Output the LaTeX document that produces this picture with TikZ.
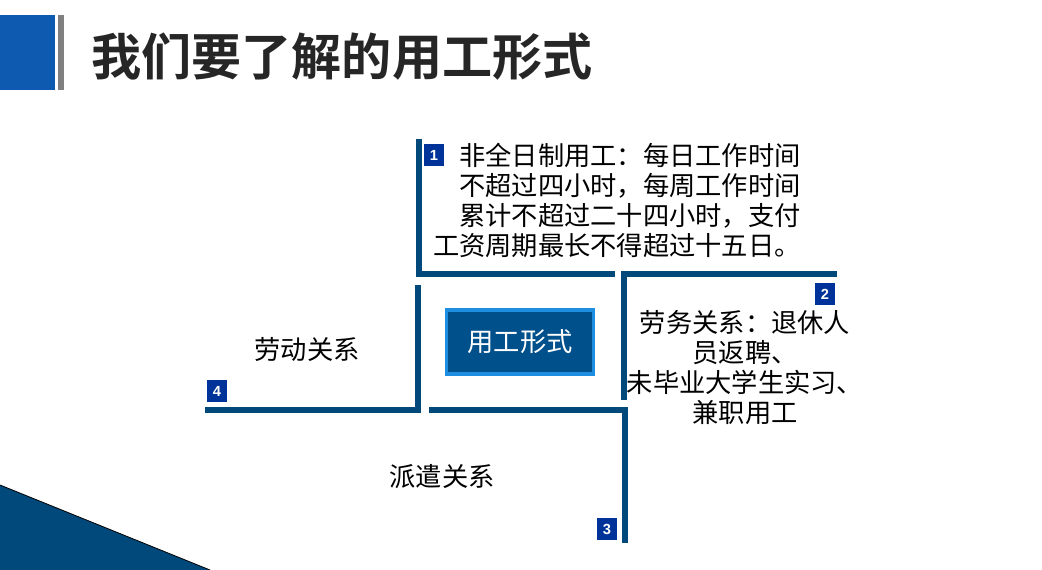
\documentclass[tikz,border=0pt]{standalone}
\usepackage{fontspec}
\setmainfont{Liberation Sans}
\newfontfamily\cjk[BoldFont={Noto Sans CJK SC Bold}]{Noto Sans CJK SC}
\definecolor{lineblue}{HTML}{00497A}
\definecolor{numblue}{HTML}{003399}
\definecolor{topblue}{HTML}{0E5AB0}
\definecolor{boxblue}{HTML}{00508C}
\definecolor{boxedge}{HTML}{1E8FE0}
\definecolor{titlegray}{HTML}{262626}
\begin{document}
\begin{tikzpicture}[x=0.75pt,y=-0.75pt,
  bracket/.style={draw=lineblue,line width=4.6pt,line join=miter,line cap=rect},
  numbox/.style={fill=numblue,text=white,font=\bfseries\fontsize{11}{12}\selectfont,minimum width=15pt,minimum height=16pt,inner sep=0pt},
  body/.style={font=\cjk\fontsize{19.7}{22.5}\selectfont,text=black,inner sep=0pt},
]
\useasboundingbox (0,0) rectangle (1042,570);
% header
\fill[topblue] (0,15) rectangle (55,90);
\fill[gray] (58,15) rectangle (64,90);
\node[anchor=west,inner sep=0pt,text=titlegray,font=\cjk\bfseries\fontsize{37.6}{42}\selectfont] (title) at (91,57) {我们要了解的用工形式};
% bottom-left triangle
\fill[lineblue] (0,485) -- (210,570) -- (0,570) -- cycle;
\draw[black,line width=0.6pt] (0,485) -- (210,570);
% brackets
\coordinate (a1) at (419,142); \coordinate (a2) at (419,274); \coordinate (a3) at (612,274);
\draw[bracket] (a1) -- (a2) -- (a3);
\coordinate (b1) at (624,397); \coordinate (b2) at (624,274); \coordinate (b3) at (834,274);
\draw[bracket] (b1) -- (b2) -- (b3);
\coordinate (c1) at (432,410); \coordinate (c2) at (625,410); \coordinate (c3) at (625,540);
\draw[bracket] (c1) -- (c2) -- (c3);
\coordinate (d1) at (418,288); \coordinate (d2) at (418,410); \coordinate (d3) at (208,410);
\draw[bracket] (d1) -- (d2) -- (d3);
% number boxes
\node[numbox] (n1) at (434,155) {1};
\node[numbox] (n2) at (825,294) {2};
\node[numbox] (n3) at (607,529) {3};
\node[numbox] (n4) at (217,391) {4};
% center box
\node[draw=boxedge,line width=2.5pt,fill=boxblue,text=white,font=\cjk\fontsize{19.7}{22}\selectfont,minimum width=110pt,minimum height=48pt] (center) at (520,342) {用工形式};
% texts
\node[body,anchor=east,align=right] (t1) at (801,200) {非全日制用工：每日工作时间\\不超过四小时，每周工作时间\\累计不超过二十四小时，支付\\工资周期最长不得超过十五日。};
\node[body,align=center] (t2) at (745,368) {劳务关系：退休人\\员返聘、\\未毕业大学生实习、\\兼职用工};
\node[body] (t4) at (307,350) {劳动关系};
\node[body] (t3) at (442,477) {派遣关系};
\end{tikzpicture}
\end{document}
